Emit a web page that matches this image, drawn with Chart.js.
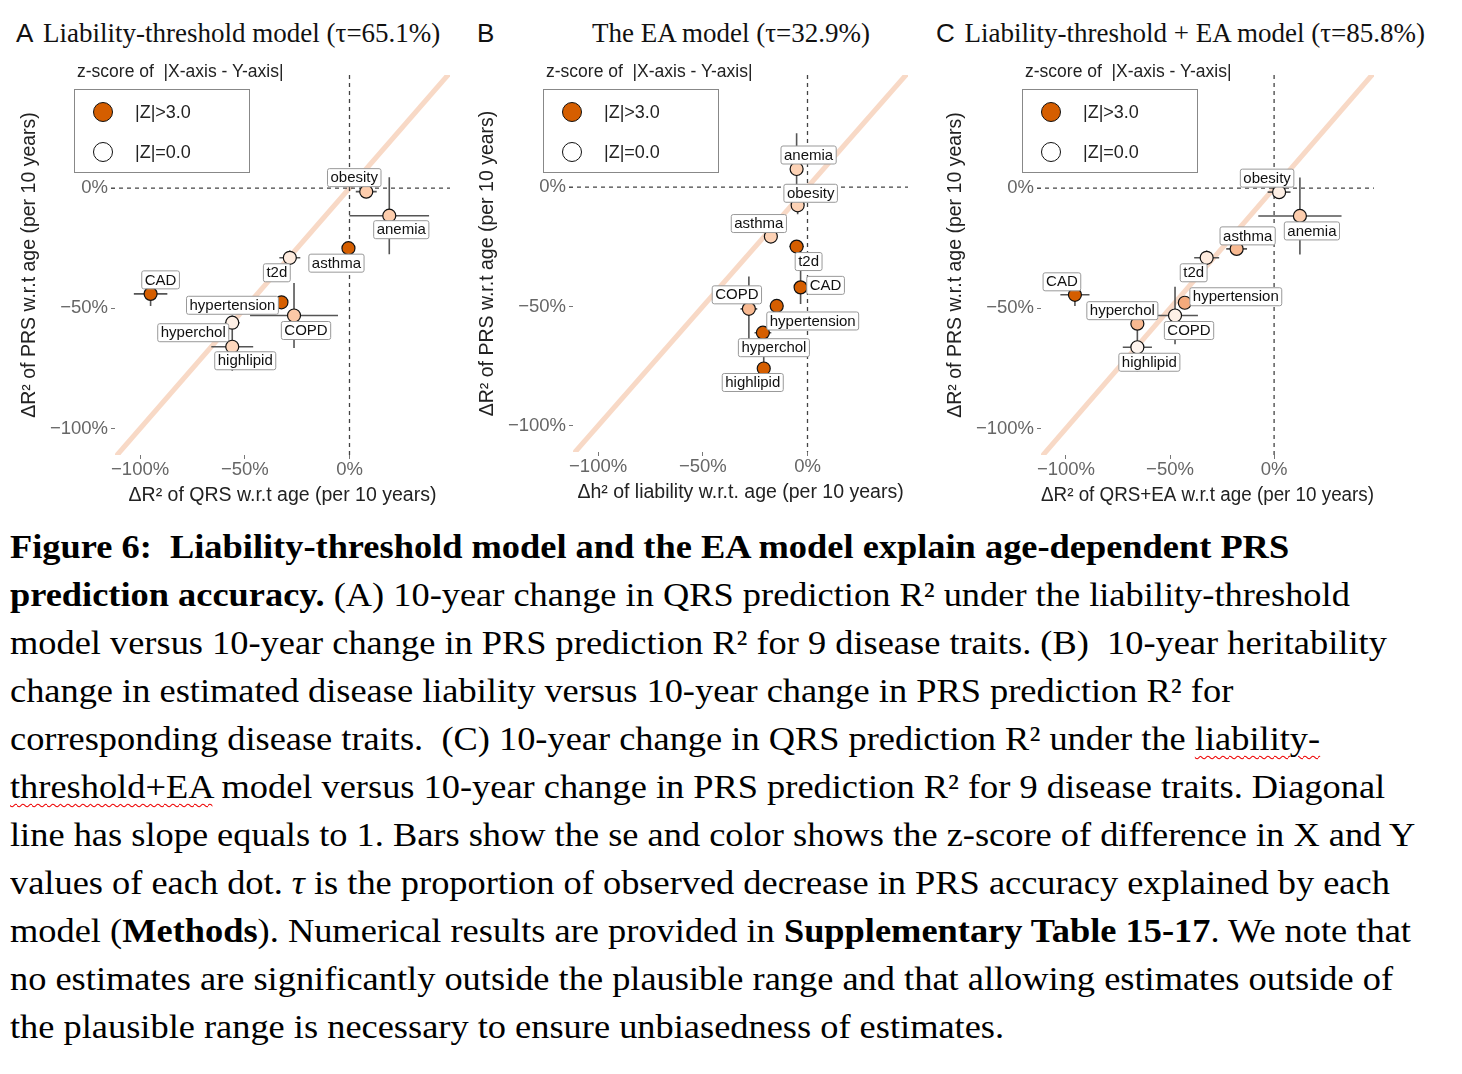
<!DOCTYPE html>
<html>
<head>
<meta charset="utf-8">
<script src="https://cdn.jsdelivr.net/npm/chart.js@4.4.1/dist/chart.umd.min.js"></script>
<style>
body { margin: 0; background: #fff; width: 1462px; height: 1074px; position: relative; overflow: hidden; font-family: "Liberation Sans", Arial, sans-serif; }
canvas { position: absolute; }
.ptitle { position: absolute; top: 17px; line-height: 32px; white-space: nowrap; font-family: "Liberation Serif", serif; font-size: 27px; color: #111; }
.lt { font-family: "Liberation Sans", sans-serif; font-size: 26px; margin-right: 3px; }
.ltitle { position: absolute; top: 61px; font-size: 17.5px; color: #222; white-space: nowrap; }
.legend { position: absolute; top: 89px; height: 84px; border: 1px solid #888; box-sizing: border-box; background: #fff; }
.dot { position: absolute; left: 18px; width: 20px; height: 20px; border-radius: 50%; border: 1.3px solid #111; box-sizing: border-box; }
.ltext { position: absolute; left: 60px; font-size: 18px; line-height: 20px; color: #222; }
.caption { position: absolute; left: 10px; top: 523px; font-family: "Liberation Serif", "Times New Roman", serif; font-size: 34px; line-height: 48px; color: #000; white-space: nowrap; transform: scaleX(1.07); transform-origin: 0 0; }
.sq { text-decoration: underline wavy #e00; text-decoration-thickness: 1px; text-underline-offset: 5px; }
</style>
</head>
<body>

<div class="ptitle" style="left:16px"><span class="lt">A</span> Liability-threshold model (τ=65.1%)</div>
<div class="ptitle" style="left:477px"><span class="lt">B</span></div>
<div class="ptitle" style="left:592px">The EA model (τ=32.9%)</div>
<div class="ptitle" style="left:936px"><span class="lt">C</span> Liability-threshold + EA model (τ=85.8%)</div>

<canvas id="chartA" width="445" height="455" style="left:15px; top:60px"></canvas>
<canvas id="chartB" width="445" height="452" style="left:473px; top:60px"></canvas>
<canvas id="chartC" width="443" height="455" style="left:941px; top:60px"></canvas>

<div class="ltitle" style="left:77px">z-score of &nbsp;|X-axis - Y-axis|</div>
<div class="legend" style="left:74px; width:176px">
  <div class="dot" style="top:12px; background:#D55E00"></div><div class="ltext" style="top:12px">|Z|&gt;3.0</div>
  <div class="dot" style="top:52px; background:#fff"></div><div class="ltext" style="top:52px">|Z|=0.0</div>
</div>
<div class="ltitle" style="left:546px">z-score of &nbsp;|X-axis - Y-axis|</div>
<div class="legend" style="left:543px; width:176px">
  <div class="dot" style="top:12px; background:#D55E00"></div><div class="ltext" style="top:12px">|Z|&gt;3.0</div>
  <div class="dot" style="top:52px; background:#fff"></div><div class="ltext" style="top:52px">|Z|=0.0</div>
</div>
<div class="ltitle" style="left:1025px">z-score of &nbsp;|X-axis - Y-axis|</div>
<div class="legend" style="left:1022px; width:176px">
  <div class="dot" style="top:12px; background:#D55E00"></div><div class="ltext" style="top:12px">|Z|&gt;3.0</div>
  <div class="dot" style="top:52px; background:#fff"></div><div class="ltext" style="top:52px">|Z|=0.0</div>
</div>

<div class="caption">
<div><b>Figure 6:&nbsp; Liability-threshold model and the EA model explain age-dependent PRS</b></div>
<div><b>prediction accuracy.</b> (A) 10-year change in QRS prediction R² under the liability-threshold</div>
<div>model versus 10-year change in PRS prediction R² for 9 disease traits. (B)&nbsp; 10-year heritability</div>
<div>change in estimated disease liability versus 10-year change in PRS prediction R² for</div>
<div>corresponding disease traits.&nbsp; (C) 10-year change in QRS prediction R² under the <span class="sq">liability-</span></div>
<div><span class="sq">threshold+EA</span> model versus 10-year change in PRS prediction R² for 9 disease traits. Diagonal</div>
<div>line has slope equals to 1. Bars show the se and color shows the z-score of difference in X and Y</div>
<div>values of each dot. <i>τ</i> is the proportion of observed decrease in PRS accuracy explained by each</div>
<div>model (<b>Methods</b>). Numerical results are provided in <b>Supplementary Table 15-17</b>. We note that</div>
<div>no estimates are significantly outside the plausible range and that allowing estimates outside of</div>
<div>the plausible range is necessary to ensure unbiasedness of estimates.</div>
</div>

<script>
// trait order is the same in every panel
const traits = ['obesity', 'anemia', 'asthma', 't2d', 'CAD', 'hypertension', 'COPD', 'hyperchol', 'highlipid'];
const tickVals = [-100, -50, 0];

// A: liability-threshold model (x = dR2 of QRS, y = dR2 of PRS, in %)
const aX   = [8, 19, -0.5, -28.5, -95, -32.5, -26.5, -56, -56];
const aY   = [-1.5, -11.5, -25, -29, -44, -47.5, -53, -56, -66];
const aXse = [5, 19, 1, 5, 8, 1, 21, 3.5, 10];
const aYse = [2.5, 16, 1, 3, 5, 1, 13.5, 3, 10];
const aZ   = [1.0, 1.0, 3.5, 0.4, 4.0, 4.0, 1.1, 0.3, 0.8];

// B: EA model (x = dh2 of liability)
const bX   = [-4.7, -5.2, -17.5, -5.2, -3.3, -14.7, -28, -21.3, -20.9];
const bY   = [-7.6, 7.6, -20.7, -24.9, -42, -49.8, -51, -61, -76];
const bXse = [2, 2.5, 3, 3.5, 1.5, 1.5, 4, 4, 1.5];
const bYse = [3.8, 15, 1, 1.5, 7, 1, 13.5, 2, 5];
const bZ   = [0.9, 0.9, 0.9, 3.5, 3.5, 3.5, 1.4, 3.5, 3.5];

// C: liability-threshold + EA model (x = dR2 of QRS+EA)
const cX   = [2.4, 12.4, -18, -32.4, -95.7, -42.9, -47.6, -65.7, -65.7];
const cY   = [-1.7, -11.6, -25.3, -29, -44.4, -47.7, -53, -56.4, -66.2];
const cXse = [5.5, 20, 5, 6, 7, 1, 11, 3, 7];
const cYse = [2.5, 16, 1, 3, 4.6, 1, 12, 3, 10];
const cZ   = [0.3, 1.0, 1.4, 0.4, 3.5, 1.7, 0.3, 1.4, 0.2];

// label nudges in px (ggrepel-like placement)
const nudgeA = [[-12,-14],[12,14],[-12,15],[-13,15],[10,-14],[-49,3],[12,15],[-39,10],[13,14]];
const nudgeB = [[13,-12],[12,-14],[-12,-13],[12,15],[25,-2],[36,15],[-12,-14],[11,15],[-11,14]];
const nudgeC = [[-12,-14],[12,15],[11,-13],[-13,15],[-13,-13],[51,-6],[14,15],[-15,-13],[12,15]];

// white -> orange fill for |Z| capped at 3
const stops = [[0, [255,255,255]], [0.35, [253,202,169]], [0.7, [238,150,96]], [1, [213,94,0]]];
function zColor(z) {
    const t = Math.min(Math.abs(z), 3) / 3;
    for (let i = 1; i < stops.length; i++) {
        if (t <= stops[i][0]) {
            const [t0, c0] = stops[i-1], [t1, c1] = stops[i];
            const f = (t - t0) / (t1 - t0);
            const c = c0.map((v, k) => Math.round(v + (c1[k] - v) * f));
            return 'rgb(' + c.join(',') + ')';
        }
    }
    return 'rgb(213,94,0)';
}

function pct(v) { return (v < 0 ? '\u2212' : '') + Math.abs(v) + '%'; }

function makePanel(id, xs, ys, xse, yse, zs, nudge, xTitle) {
    const overlay = {
        id: 'overlay' + id,
        afterDatasetDraw(chart, args) {
            if (args.index !== 1) return;   // right after the diagonal
            const ctx = chart.ctx, a = chart.chartArea, sx = chart.scales.x, sy = chart.scales.y;
            const x0 = sx.getPixelForValue(0), y0 = sy.getPixelForValue(0);
            ctx.save();
            ctx.strokeStyle = '#444';
            ctx.lineWidth = 1.3;
            ctx.setLineDash([4, 4]);
            ctx.beginPath();
            ctx.moveTo(x0, a.top); ctx.lineTo(x0, a.bottom);
            ctx.moveTo(a.left - 4, y0); ctx.lineTo(a.right, y0);
            ctx.stroke();
            ctx.setLineDash([]);
            ctx.strokeStyle = '#555';
            ctx.lineWidth = 1.6;
            ctx.beginPath();
            xs.forEach((v, i) => {
                const px = sx.getPixelForValue(v), py = sy.getPixelForValue(ys[i]);
                ctx.moveTo(sx.getPixelForValue(v - xse[i]), py);
                ctx.lineTo(sx.getPixelForValue(v + xse[i]), py);
                ctx.moveTo(px, sy.getPixelForValue(ys[i] - yse[i]));
                ctx.lineTo(px, sy.getPixelForValue(ys[i] + yse[i]));
            });
            ctx.stroke();
            ctx.restore();
        },
        afterDatasetsDraw(chart) {
            const ctx = chart.ctx, sx = chart.scales.x, sy = chart.scales.y;
            ctx.save();
            ctx.font = '15px "Liberation Sans", Arial, sans-serif';
            ctx.textAlign = 'center';
            ctx.textBaseline = 'middle';
            traits.forEach((t, i) => {
                const cx = sx.getPixelForValue(xs[i]) + nudge[i][0];
                const cy = sy.getPixelForValue(ys[i]) + nudge[i][1];
                const w = ctx.measureText(t).width + 6, h = 18;
                ctx.beginPath();
                ctx.roundRect(cx - w / 2, cy - h / 2, w, h, 2);
                ctx.fillStyle = '#fff';
                ctx.fill();
                ctx.strokeStyle = '#999';
                ctx.lineWidth = 1;
                ctx.stroke();
                ctx.fillStyle = '#111';
                ctx.fillText(t, cx, cy + 0.5);
            });
            ctx.restore();
        }
    };

    const tickFont = { family: '"Liberation Sans", Arial, sans-serif', size: 18.5 };
    const titleFont = { family: '"Liberation Sans", Arial, sans-serif', size: 19.5 };

    new Chart(id, {
        data: {
            datasets: [{
                type: 'scatter',
                data: xs.map((v, i) => ({ x: v, y: ys[i] })),
                pointRadius: 6.5,
                pointBackgroundColor: zs.map(zColor),
                pointBorderColor: '#111',
                pointBorderWidth: 1.2
            }, {
                type: 'line',
                data: [{ x: -130, y: -130 }, { x: 60, y: 60 }],
                borderColor: '#F8D9C6',
                borderWidth: 5,
                pointRadius: 0,
                clip: 0
            }]
        },
        options: {
            responsive: false,
            animation: false,
            events: [],
            layout: { padding: { top: 15, right: 10, left: 0, bottom: 0 } },
            plugins: { legend: { display: false }, tooltip: { enabled: false } },
            scales: {
                x: {
                    type: 'linear', min: -112, max: 48,
                    afterBuildTicks: s => { s.ticks = tickVals.map(v => ({ value: v })); },
                    afterFit: s => { s.height = 60; },
                    grid: { drawOnChartArea: false, drawTicks: true, tickLength: 4, color: '#777' },
                    border: { display: false },
                    ticks: { callback: pct, color: '#666', font: tickFont, padding: 0, maxRotation: 0 },
                    title: { display: true, text: xTitle, color: '#222', font: titleFont, padding: { top: 0, bottom: 8 } }
                },
                y: {
                    type: 'linear', min: -111, max: 47,
                    afterBuildTicks: s => { s.ticks = tickVals.map(v => ({ value: v })); },
                    afterFit: s => { s.width = 100; },
                    grid: { drawOnChartArea: false, drawTicks: true, tickLength: 4, color: '#777' },
                    border: { display: false },
                    ticks: { callback: pct, color: '#666', font: tickFont, padding: 3 },
                    title: { display: true, text: 'ΔR² of PRS w.r.t age (per 10 years)', color: '#222', font: titleFont, padding: { top: 3, bottom: 0 } }
                }
            }
        },
        plugins: [overlay]
    });
}

makePanel('chartA', aX, aY, aXse, aYse, aZ, nudgeA, 'ΔR² of QRS w.r.t age (per 10 years)');
makePanel('chartB', bX, bY, bXse, bYse, bZ, nudgeB, 'Δh² of liability w.r.t. age (per 10 years)');
makePanel('chartC', cX, cY, cXse, cYse, cZ, nudgeC, 'ΔR² of QRS+EA w.r.t age (per 10 years)');
</script>
</body>
</html>
